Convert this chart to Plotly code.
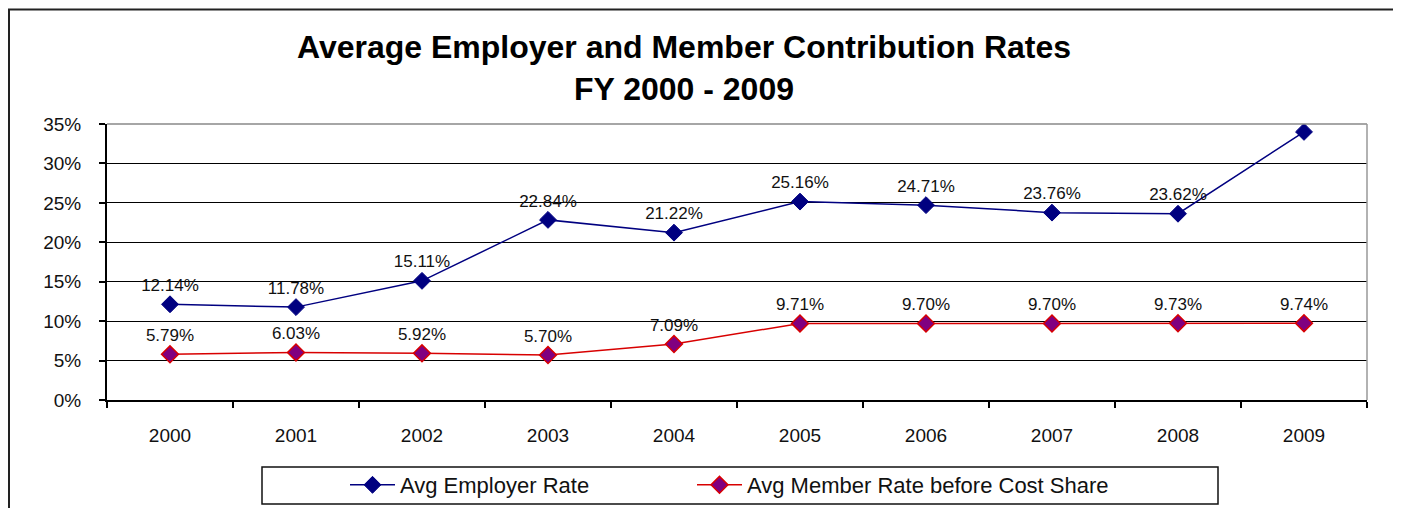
import plotly.graph_objects as go

# data
years = ["2000", "2001", "2002", "2003", "2004", "2005", "2006", "2007", "2008", "2009"]
employer_rate = [12.14, 11.78, 15.11, 22.84, 21.22, 25.16, 24.71, 23.76, 23.62, 34.00]
member_rate = [5.79, 6.03, 5.92, 5.70, 7.09, 9.71, 9.70, 9.70, 9.73, 9.74]
y_ticks = [0, 5, 10, 15, 20, 25, 30, 35]

FONT = "Liberation Sans, Arial, sans-serif"
# the page body keeps an 8px margin, so figure px = screen px - 8
W, H = 1393, 500
L, R, T, B = 99, 34, 116, 108  # plot area 99..1359 x 116..392 (figure px)


def px_x(p):
    return (p - L) / (W - L - R)


def px_y(p):
    return (H - B - p) / (H - T - B)


fig = go.Figure()

fig.add_trace(go.Scatter(
    x=years, y=employer_rate,
    mode="lines+markers+text",
    name="Avg Employer Rate",
    text=[f"{v:.2f}%" for v in employer_rate],
    textposition="top center",
    textfont=dict(family=FONT, size=17, color="#111"),
    line=dict(color="#000080", width=1.5),
    marker=dict(symbol="diamond", size=13, color="#000080", line=dict(color="#000080", width=1)),
    legend="legend",
))

fig.add_trace(go.Scatter(
    x=years, y=member_rate,
    mode="lines+markers+text",
    name="Avg Member Rate before Cost Share",
    text=[f"{v:.2f}%" for v in member_rate],
    textposition="top center",
    textfont=dict(family=FONT, size=17, color="#111"),
    line=dict(color="#D80000", width=1.5),
    marker=dict(symbol="diamond", size=13, color="#800080", line=dict(color="#D80000", width=1.5)),
    legend="legend2",
))

shapes = [
    # outer chart frame
    dict(type="rect", xref="paper", yref="paper",
         x0=px_x(1), x1=px_x(1388), y0=px_y(1.5), y1=px_y(520),
         line=dict(color="#222", width=2), layer="below"),
    # legend frame
    dict(type="rect", xref="paper", yref="paper",
         x0=px_x(254), x1=px_x(1210), y0=px_y(459), y1=px_y(496),
         line=dict(color="#111", width=1.5), layer="below"),
    # gray top / right edges of plot area
    dict(type="line", xref="paper", yref="paper", x0=0, x1=1, y0=1, y1=1,
         line=dict(color="#888", width=1.5)),
    dict(type="line", xref="paper", yref="paper", x0=1, x1=1, y0=0, y1=1,
         line=dict(color="#999", width=1.5)),
]

legend_style = dict(
    orientation="h", xref="container", yref="container",
    xanchor="left", yanchor="middle", y=(H - 477) / H,
    bgcolor="rgba(0,0,0,0)", borderwidth=0, itemwidth=45,
    font=dict(family=FONT, size=22, color="#111"),
)

fig.update_layout(
    width=W, height=H,
    margin=dict(l=L, r=R, t=T, b=B),
    paper_bgcolor="white", plot_bgcolor="white",
    font=dict(family=FONT, color="#111"),
    title=dict(
        text="<b>Average Employer and Member Contribution Rates<br>FY 2000 - 2009</b>",
        x=676 / W, xanchor="center", y=1 - 50 / H, yanchor="top",
        font=dict(family=FONT, size=32, color="#000"),
    ),
    xaxis=dict(
        type="category", range=[-0.5, 9.5],
        showgrid=False, showline=True, linecolor="#000", linewidth=2,
        ticks="outside", tickson="boundaries", ticklen=6, tickwidth=1.5, tickcolor="#000",
        tickfont=dict(family=FONT, size=19, color="#111"),
        ticklabelstandoff=17,
    ),
    yaxis=dict(
        range=[0, 35], tickvals=y_ticks, ticktext=[f"{v}%" for v in y_ticks],
        showgrid=True, gridcolor="#000", gridwidth=1,
        showline=True, linecolor="#000", linewidth=2,
        ticks="outside", ticklen=6, tickwidth=1.5, tickcolor="#000",
        tickfont=dict(family=FONT, size=19, color="#111"),
        ticklabelstandoff=14, zeroline=False,
    ),
    legend=dict(legend_style, x=337 / W),
    legend2=dict(legend_style, x=684 / W),
    shapes=shapes,
    showlegend=True,
)

fig.write_html("out.html")
